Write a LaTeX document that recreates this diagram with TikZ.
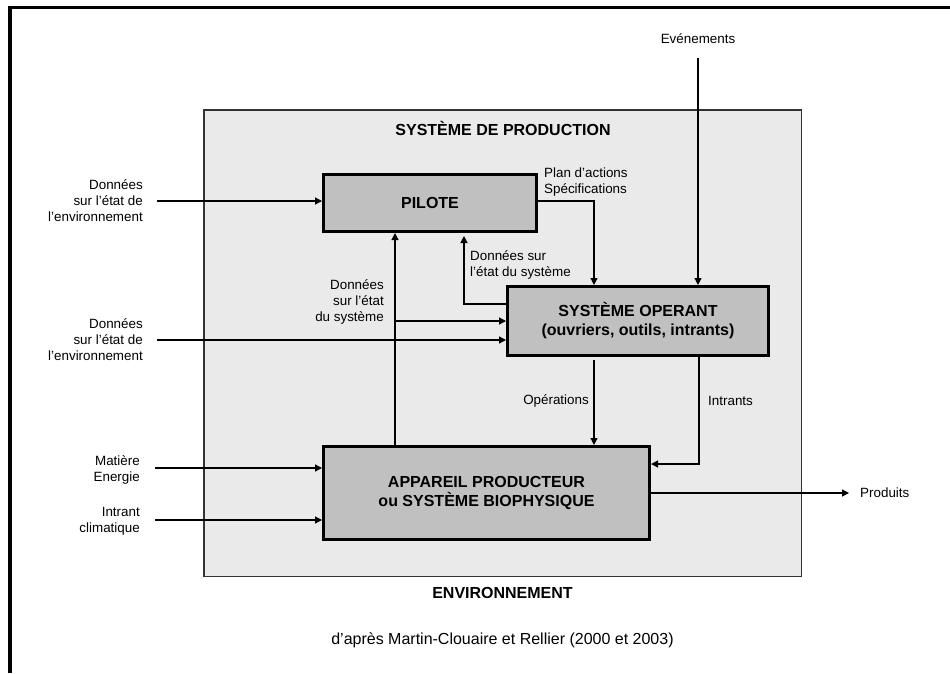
\documentclass[tikz,border=0pt]{standalone}
\usepackage{fontspec}
\setmainfont{Liberation Sans}
\usetikzlibrary{arrows.meta,calc}
\definecolor{bgbox}{HTML}{EAEAEA}
\definecolor{boxfill}{HTML}{C0C0C0}
\begin{document}
\begin{tikzpicture}[x=1pt,y=-1pt,
  lbl/.style={font=\fontsize{13.4}{16}\selectfont, inner sep=0pt},
  ttl/.style={font=\fontsize{16}{19}\selectfont\bfseries, inner sep=0pt},
  blk/.style={draw=black, line width=3pt, fill=boxfill, font=\fontsize{16}{19}\selectfont\bfseries, align=center, inner sep=0pt},
  arr/.style={line width=1.2pt, -{Triangle[length=7pt,width=7pt]}}]
\useasboundingbox (0,0) rectangle (950,673);
\draw[line width=3.5pt] (10,673) -- (10,7.5) -- (950,7.5);
\node[draw=black!80, line width=1.5pt, fill=bgbox, minimum width=597.5pt, minimum height=466.5pt, inner sep=0pt] (prod) at (502.5,343) {};
\node[ttl] (t) at (503,128) {SYSTÈME DE PRODUCTION};
\node[blk, minimum width=213pt, minimum height=57pt] (pil) at (430,203) {PILOTE};
\node[blk, minimum width=261pt, minimum height=69pt] (so) at (638,321) {SYSTÈME OPERANT\\(ouvriers, outils, intrants)};
\node[blk, minimum width=326pt, minimum height=93pt] (app) at (486.5,493) {APPAREIL PRODUCTEUR\\ou SYSTÈME BIOPHYSIQUE};
\node[ttl] (env) at (502.5,593) {ENVIRONNEMENT};
\node[font=\fontsize{16}{19}\selectfont, inner sep=0pt] (cit) at (502.5,640) {d’après Martin-Clouaire et Rellier (2000 et 2003)};
% labels
\node[lbl, align=right, anchor=east] (d1) at (143,201) {Données\\sur l’état de\\l’environnement};
\node[lbl, align=right, anchor=east] (d2) at (143,340) {Données\\sur l’état de\\l’environnement};
\node[lbl, align=right, anchor=east] (m) at (140,470) {Matière\\Energie};
\node[lbl, align=right, anchor=east] (ic) at (140,521) {Intrant\\climatique};
\node[lbl] (ev) at (698,39) {Evénements};
\node[lbl, align=left, anchor=west] (pa) at (544,182.5) {Plan d’actions\\Spécifications};
\node[lbl, align=right, anchor=east] (dss) at (384,302) {Données\\sur l’état\\du système};
\node[lbl, align=left, anchor=west] (ds2) at (470,264.5) {Données sur\\l’état du système};
\node[lbl, anchor=east] (op) at (589,401) {Opérations};
\node[lbl, anchor=west] (intr) at (708,401) {Intrants};
\node[lbl, anchor=west] (prd) at (860,493) {Produits};
% coordinates
\coordinate (i1) at (157,201);
\coordinate (i2) at (157,340);
\coordinate (i3) at (155,468);
\coordinate (i4) at (155,520);
\coordinate (evs) at (698,58);
\coordinate (xpa) at (594,201);
\coordinate (xfb) at (464,304);
\coordinate (xv) at (395,321);
\coordinate (xin) at (699,464);
% connectors
\draw[arr] (i1) -- (i1 -| pil.west);
\draw[arr] (i2) -- (i2 -| so.west);
\draw[arr] (i3) -- (i3 -| app.west);
\draw[arr] (i4) -- (i4 -| app.west);
\draw[arr] (evs) -- (evs |- so.north);
\draw[arr] (xpa -| pil.east) -- (xpa) -- (xpa |- so.north);
\draw[arr, shorten >=3pt] (xfb -| so.west) -- (xfb) -- (xfb |- pil.south);
\draw[arr] (xv |- app.north) -- (xv |- pil.south);
\draw[arr] (xv) -- (xv -| so.west);
\draw[arr, shorten <=3pt] (xpa |- so.south) -- (xpa |- app.north);
\draw[arr] (xin |- so.south) -- (xin) -- (xin -| app.east);
\draw[arr, shorten >=11pt] (app.east) -- (prd.west);
\end{tikzpicture}
\end{document}
